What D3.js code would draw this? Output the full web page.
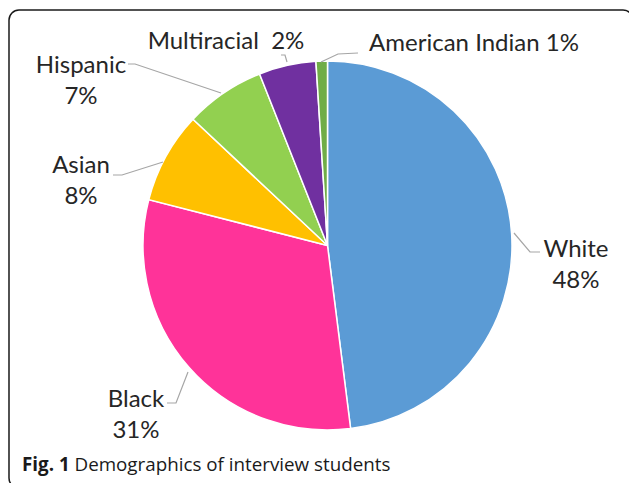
<!DOCTYPE html>
<html><head><meta charset="utf-8">
<script src="https://cdn.jsdelivr.net/npm/d3@7"></script>
<style>body{margin:0;background:#fff}svg{display:block}</style>
</head><body>
<svg id="c" width="629" height="483"></svg>
<script>
const categories = ["White","Black","Asian","Hispanic","Multiracial","American Indian"];
const values = [48,31,8,7,5,1];
const labelPercents = ["48%","31%","8%","7%","2%","1%"];
const colors = ["#5B9BD5","#FF3399","#FFC000","#92D050","#7030A0","#70AD47"];

const svg = d3.select("#c");
// frame
svg.append("rect").attr("x",9).attr("y",10).attr("width",624).attr("height",478)
  .attr("rx",10).attr("fill","none").attr("stroke","#1a1a1a").attr("stroke-width",1.5);

const cx = 327.5, cy = 245.5, R = 184.5;
const g = svg.append("g").attr("transform",`translate(${cx},${cy})`);
const pie = d3.pie().sort(null).value(d=>d.v).startAngle(0).endAngle(2*Math.PI);
const data = categories.map((c,i)=>({c, v:values[i], p:labelPercents[i], col:colors[i]}));
const arcs = pie(data);
const arc = d3.arc().innerRadius(0).outerRadius(R);
g.selectAll("path.s").data(arcs).join("path").attr("class","s")
  .attr("d",arc).attr("fill",d=>d.data.col).attr("stroke","#fff").attr("stroke-width",1.5);

const font = "Lato, 'Open Sans', sans-serif";
const tc = "#262626";
const fs = 24;
const layout = {
  "White": {x:576, y:257, two:true, leader:[[514,233],[530,252],[540,252]]},
  "Black": {x:136, y:407, two:true, leader:[[188,372],[176,403],[167,403]]},
  "Asian": {x:81, y:173, two:true, leader:[[163,162],[122,175],[113,175]]},
  "Hispanic": {x:81, y:73, two:true, leader:[[221,93],[135,64],[128,64]]},
  "Multiracial": {x:226, y:49, two:false, sep:"  ", leader:[[287,62],[285,55],[281,55]]},
  "American Indian": {x:474, y:51, two:false, sep:" ", leader:[[321,62],[338,54],[358,53]]}
};
const lg = svg.append("g");
arcs.forEach(a=>{
  const L = layout[a.data.c];
  lg.append("path").attr("d", d3.line()(L.leader)).attr("fill","none")
    .attr("stroke","#a6a6a6").attr("stroke-width",1.2);
  const t = lg.append("text").attr("font-family",font).attr("font-size",fs).attr("fill",tc)
    .attr("text-anchor","middle");
  if (L.two) {
    t.append("tspan").attr("x",L.x).attr("y",L.y).text(a.data.c);
    t.append("tspan").attr("x",L.x).attr("y",L.y+31).text(a.data.p);
  } else {
    t.attr("x",L.x).attr("y",L.y).attr("xml:space","preserve").text(a.data.c+L.sep+a.data.p);
  }
});

const cap = svg.append("text").attr("x",22).attr("y",471).attr("font-family","'Open Sans', sans-serif")
  .attr("font-size",18.8).attr("fill","#1a1a1a");
cap.append("tspan").attr("font-weight","bold").text("Fig. 1");
cap.append("tspan").text(" Demographics of interview students");
</script>
</body></html>
